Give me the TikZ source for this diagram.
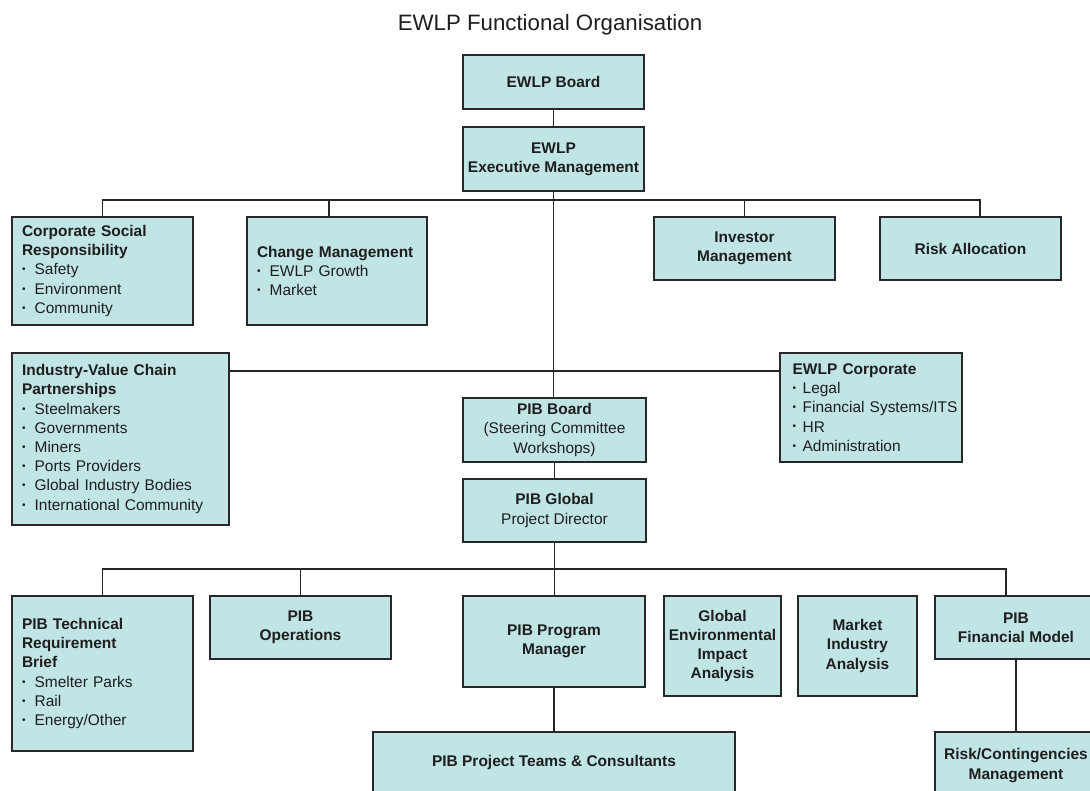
\documentclass[tikz,border=0pt]{standalone}
\usepackage{fontspec}
\setmainfont{Liberation Sans}
\usepackage{xcolor}
\definecolor{boxfill}{RGB}{193,228,229}
\definecolor{boxline}{RGB}{40,40,40}
\definecolor{inktext}{RGB}{30,30,30}
\newcommand{\bul}[1][9.5pt]{\makebox[#1][l]{\raisebox{0.25ex}{\fontsize{7.5pt}{7.5pt}\selectfont\textbullet}}}

\begin{document}
\begin{tikzpicture}[x=0.75pt,y=0.75pt,yscale=-1,xscale=1,
    orgbox/.style={draw=boxline, fill=boxfill, line width=1.1pt, text=inktext,
      inner xsep=2pt, inner ysep=1pt, align=center,
      font=\fontsize{11.6pt}{14.4pt}\selectfont},
    listbox/.style={orgbox, align=left, inner xsep=7.5pt},
    sz/.style 2 args={minimum width=#1*0.75pt, minimum height=#2*0.75pt},
    link/.style={draw=black!85, line width=1.2pt}]
                  \useasboundingbox (0,0) rectangle (1090,791);
                  \clip (0,0) rectangle (1090,791);
                  \fill [white] (0,0) rectangle (1090,791);
                  % Text Node
                  \node [anchor=base, text=inktext, font=\fontsize{16.7pt}{20pt}\selectfont] (title) at (550,31) {EWLP Functional Organisation};
                  % Text Node
                  \node [orgbox, sz={181}{54}] (board) at (553.5,82) {\textbf{EWLP Board}};
                  % Text Node
                  \node [orgbox, sz={181}{64}] (exec) at (553.5,159) {\textbf{EWLP}\\\textbf{Executive Management}};
                  % Text Node
                  \node [listbox, sz={181}{108}, text width=120.75pt] (csr) at (102.5,271) {\textbf{Corporate Social}\\\textbf{Responsibility}\\\bul Safety\\\bul Environment\\\bul Community};
                  % Text Node
                  \node [listbox, sz={180}{108}, text width=120pt] (change) at (337,271) {\textbf{Change Management}\\\bul EWLP Growth\\\bul Market};
                  % Text Node
                  \node [orgbox, sz={181}{63}] (investor) at (744.5,248.5) {\textbf{Investor}\\\textbf{Management}};
                  % Text Node
                  \node [orgbox, sz={181}{63}] (riskalloc) at (970.5,248.5) {\textbf{Risk Allocation}};
                  % Text Node
                  \node [listbox, sz={217}{172}, text width=147.75pt] (ivc) at (120.5,439) {\textbf{Industry-Value Chain}\\\textbf{Partnerships}\\\bul Steelmakers\\\bul Governments\\\bul Miners\\\bul Ports Providers\\\bul Global Industry Bodies\\\bul International Community};
                  % Text Node
                  \node [listbox, sz={182}{109}, inner xsep=9.5pt, text width=117.5pt] (corp) at (871,407.5) {\textbf{EWLP Corporate}\\\bul[7.5pt]Legal\\\mbox{\bul[7.5pt]Financial Systems/ITS}\\\bul[7.5pt]HR\\\bul[7.5pt]Administration};
                  % Text Node
                  \node [orgbox, sz={183}{64}] (pibboard) at (554.5,430) {\textbf{PIB Board}\\(Steering Committee\\Workshops)};
                  % Text Node
                  \node [orgbox, sz={183}{63}] (pibglobal) at (554.5,510.5) {\textbf{PIB Global}\\Project Director};
                  % Text Node
                  \node [listbox, sz={181}{155}, text width=120.75pt] (tech) at (102.5,673.5) {\textbf{PIB Technical}\\\textbf{Requirement}\\\textbf{Brief}\\\bul Smelter Parks\\\bul Rail\\\bul Energy/Other};
                  % Text Node
                  \node [orgbox, sz={181}{63}] (ops) at (300.5,627.5) {\textbf{PIB}\\\textbf{Operations}};
                  % Text Node
                  \node [orgbox, sz={182}{91}] (pm) at (554,641.5) {\textbf{PIB Program}\\\textbf{Manager}};
                  % Text Node
                  \node [orgbox, sz={117}{100}] (gea) at (722.5,646) {\textbf{Global}\\\textbf{Environmental}\\\textbf{Impact}\\\textbf{Analysis}};
                  % Text Node
                  \node [orgbox, sz={119}{100}] (mia) at (857.5,646) {\textbf{Market}\\\textbf{Industry}\\\textbf{Analysis}};
                  % Text Node
                  \node [orgbox, sz={162}{63}] (finmodel) at (1016,627.5) {\textbf{PIB}\\\textbf{Financial Model}};
                  % Text Node
                  \node [orgbox, sz={362}{62}] (teams) at (554,763) {\textbf{PIB Project Teams \& Consultants}};
                  % Text Node
                  \node [orgbox, sz={162}{67}] (riskcont) at (1016,765.5) {\textbf{Risk/Contingencies}\\\textbf{Management}};
                  % Bus lines
                  \coordinate (topbus) at (0,200);
                  \coordinate (midbus) at (0,371);
                  \coordinate (botbus) at (0,569);
                  \coordinate (rdrop) at ([xshift=7pt]riskalloc.north);
                  \coordinate (fdrop) at ([xshift=-7.5pt]finmodel.north);
                  % Connection
                  \draw [link] (board) -- (exec);
                  \draw [link] (exec.south) -- (exec.south |- pibboard.north);
                  % Connection
                  \draw [link] (csr.north) |- (rdrop |- topbus) -- (rdrop);
                  \draw [link] ([xshift=-6pt]change.north) -- ([xshift=-6pt]change.north |- topbus);
                  \draw [link] (investor.north) -- (investor.north |- topbus);
                  % Connection
                  \draw [link] (midbus -| ivc.east) -- (midbus -| corp.west);
                  % Connection
                  \draw [link] (pibboard) -- (pibglobal);
                  \draw [link] (pibglobal.south) -- (pibglobal.south |- pm.north);
                  % Connection
                  \draw [link] (tech.north) |- (fdrop |- botbus) -- (fdrop);
                  \draw [link] (ops.north) -- (ops.north |- botbus);
                  % Connection
                  \draw [link] (pm) -- (teams);
                  \draw [link] (finmodel) -- (riskcont);
              \end{tikzpicture}
\end{document}
